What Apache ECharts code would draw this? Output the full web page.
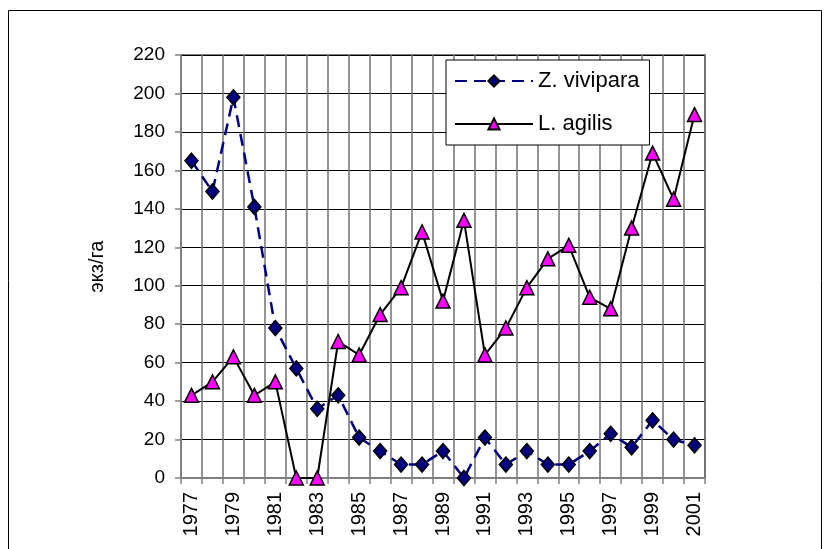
<!DOCTYPE html>
<html>
<head>
<meta charset="utf-8">
<script src="https://cdn.jsdelivr.net/npm/echarts@6/dist/echarts.min.js"></script>
<style>
html,body{margin:0;padding:0;background:#fff;}
#chart{width:831px;height:549px;}
</style>
</head>
<body>
<div id="chart"></div>
<script>
const years = ['1977','1978','1979','1980','1981','1982','1983','1984','1985','1986','1987','1988','1989','1990','1991','1992','1993','1994','1995','1996','1997','1998','1999','2000','2001'];
const zVivipara = [165,149,198,141,78,57,36,43,21,14,7,7,14,0,21,7,14,7,7,14,23,16,30,20,17];
const lAgilis = [43,50,63,43,50,0,0,71,64,85,99,128,92,134,64,78,99,114,121,94,88,130,169,145,189];
const yAxisName = 'экз/га';
const seriesNames = ['Z. vivipara','L. agilis'];

const font = '"Liberation Sans", Arial, sans-serif';
const chart = echarts.init(document.getElementById('chart'), null, {renderer:'canvas'});
chart.setOption({
  animation:false,
  backgroundColor:'#fff',
  graphic:[{
    type:'rect', z:-10, silent:true,
    shape:{x:8.5,y:10.5,width:813,height:600},
    style:{fill:'none',stroke:'#000',lineWidth:1}
  }],
  grid:{left:181,right:126,top:55,bottom:71,show:true,borderColor:'#808080',borderWidth:2,backgroundColor:'transparent'},
  legend:{
    orient:'vertical', left:446, top:60,
    backgroundColor:'#fff', borderColor:'#000', borderWidth:1,
    padding:[10,10,10,8],
    itemWidth:78, itemHeight:14, itemGap:21,
    textStyle:{fontFamily:font,fontSize:22,color:'#000'},
    data:seriesNames
  },
  xAxis:{
    type:'category', data:years, boundaryGap:true,
    axisLine:{show:true,lineStyle:{color:'#808080',width:2}},
    axisTick:{show:true,interval:0,length:6,lineStyle:{color:'#808080',width:1.5}},
    axisLabel:{interval:1,rotate:90,margin:14,fontFamily:font,fontSize:20,color:'#000'},
    splitLine:{show:true,interval:0,lineStyle:{color:'#707070',width:1.5}}
  },
  yAxis:{
    type:'value', min:0, max:220, interval:20,
    name:yAxisName, nameLocation:'middle', nameGap:74, nameRotate:90,
    nameTextStyle:{fontFamily:font,fontSize:20,color:'#000'},
    axisLine:{show:true,lineStyle:{color:'#808080',width:2}},
    axisTick:{show:true,length:6,lineStyle:{color:'#808080',width:1.5}},
    axisLabel:{margin:16,fontFamily:font,fontSize:19,color:'#000'},
    splitLine:{show:true,lineStyle:{color:'#000',width:1}}
  },
  series:[
    {
      name:seriesNames[0], type:'line', data:zVivipara,
      symbol:'diamond', symbolSize:[13,15], showAllSymbol:true,
      lineStyle:{color:'#000080',width:2.5,type:[12,7]},
      itemStyle:{color:'#000080',borderColor:'#000',borderWidth:1.5},
      z:3
    },
    {
      name:seriesNames[1], type:'line', data:lAgilis,
      symbol:'triangle', symbolSize:[14,14], showAllSymbol:true,
      lineStyle:{color:'#000',width:2,type:'solid'},
      itemStyle:{color:'#ff00ff',borderColor:'#000',borderWidth:1.5},
      z:4
    }
  ]
});
</script>
</body>
</html>
